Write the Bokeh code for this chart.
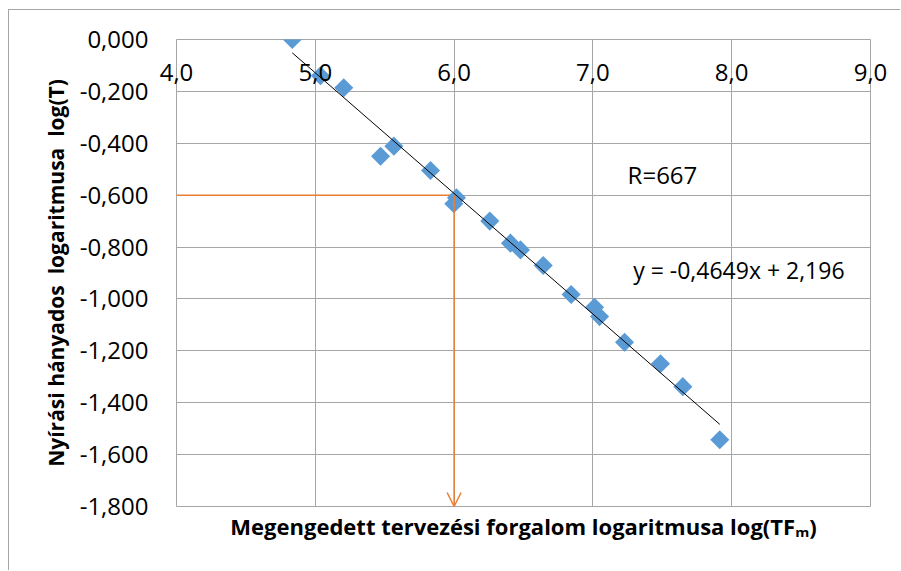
from bokeh.plotting import figure
from bokeh.models import (Range1d, FixedTicker, CustomJSTickFormatter, Label, LinearAxis,
                          Arrow, OpenHead)
from bokeh.embed import file_html
from bokeh.resources import INLINE

# Measured points: log of design traffic vs log of shear ratio
log_tf = [4.834, 5.037, 5.205, 5.470, 5.566, 5.830, 6.017, 5.998, 6.257, 6.406,
          6.478, 6.642, 6.843, 7.012, 7.048, 7.228, 7.487, 7.648, 7.914]
log_t = [0.000, -0.140, -0.186, -0.450, -0.411, -0.505, -0.610, -0.633, -0.700, -0.785,
         -0.811, -0.871, -0.983, -1.032, -1.068, -1.167, -1.250, -1.338, -1.543]

# Linear trend line
slope = -0.4649
intercept = 2.196
trend_label = "y = -0,4649x + 2,196"
r_label = "R=667"

# Reading of the diagram at the design point
read_x = 6.0
read_y = -0.6

x_ticks = [4.0, 5.0, 6.0, 7.0, 8.0, 9.0]
y_ticks = [0.0, -0.2, -0.4, -0.6, -0.8, -1.0, -1.2, -1.4, -1.6, -1.8]

x_title = "Megengedett tervezési forgalom logaritmusa log(TF\u2098)"
y_title = "Nyírási hányados \u00a0logaritmusa \u00a0log(T)"

FONT = "Open Sans"
GRID = "#a6a6a6"
BLUE = "#5b9bd5"
ORANGE = "#ed7d31"

p = figure(width=892, height=561, output_backend="svg", toolbar_location=None,
           x_range=Range1d(4.0, 9.0), y_range=Range1d(-1.8, 0.0),
           min_border_left=167, min_border_right=31, min_border_top=29, min_border_bottom=65)
p.styles = {"margin-left": "8px", "margin-top": "9px",
            "border-left": "1px solid #a6a6a6", "border-top": "1px solid #a6a6a6"}

p.outline_line_color = GRID
p.outline_line_width = 1
p.xgrid.ticker = FixedTicker(ticks=x_ticks)
p.xgrid.grid_line_color = GRID
p.ygrid.grid_line_color = GRID


def style_axis(ax, size):
    ax.axis_line_color = None
    ax.major_tick_line_color = None
    ax.minor_tick_line_color = None
    ax.major_tick_out = 0
    ax.major_tick_in = 0
    ax.minor_tick_out = 0
    ax.minor_tick_in = 0
    ax.major_label_text_font = FONT
    ax.major_label_text_font_size = size
    ax.major_label_text_color = "#000000"


def style_title(ax, size):
    ax.axis_label_text_font = FONT
    ax.axis_label_text_font_style = "bold"
    ax.axis_label_text_font_size = size
    ax.axis_label_text_color = "#000000"


# y axis on the left, comma decimals
ay = p.yaxis[0]
ay.ticker = FixedTicker(ticks=y_ticks)
ay.formatter = CustomJSTickFormatter(code="return tick.toFixed(3).replace('.', ',');")
style_axis(ay, "24px")
ay.major_label_standoff = 28
ay.axis_label = y_title
style_title(ay, "21px")
ay.axis_label_standoff = 7

# bottom axis only carries the title
ab = p.xaxis[0]
ab.ticker = FixedTicker(ticks=[])
style_axis(ab, "1px")
ab.major_label_standoff = 0
ab.axis_label = x_title
style_title(ab, "22px")
ab.axis_label_standoff = 4

# x axis crosses at y = 0, so its labels hang just under the top edge
ax_top = LinearAxis(ticker=FixedTicker(ticks=x_ticks),
                    formatter=CustomJSTickFormatter(code="return tick.toFixed(1).replace('.', ',');"))
style_axis(ax_top, "24px")
ax_top.major_label_standoff = -41
p.add_layout(ax_top, "above")

# orange reading lines
p.line([x_ticks[0], read_x], [read_y, read_y], line_color=ORANGE, line_width=1.5)
p.add_layout(Arrow(x_start=read_x, y_start=read_y, x_end=read_x, y_end=y_ticks[-1],
                   line_color=ORANGE, line_width=1.5,
                   end=OpenHead(size=14, line_color=ORANGE, line_width=1.5)))

# data points (Excel-like diamonds)
p.scatter(log_tf, log_t, marker="square", angle=0.785398, size=13.5,
          fill_color=BLUE, line_color=None)

# trend line over the span of the data
x0, x1 = min(log_tf), max(log_tf)
p.line([x0, x1], [slope * x0 + intercept, slope * x1 + intercept],
       line_color="#000000", line_width=1)

p.add_layout(Label(x=7.25, y=-0.519, text=r_label, text_align="left", text_baseline="middle",
                   text_font=FONT, text_font_size="24px", text_color="#000000"))
p.add_layout(Label(x=7.29, y=-0.888, text=trend_label, text_align="left",
                   text_baseline="middle", text_font=FONT, text_font_size="23px",
                   text_color="#000000"))

open("out.html", "w").write(file_html(p, INLINE))
